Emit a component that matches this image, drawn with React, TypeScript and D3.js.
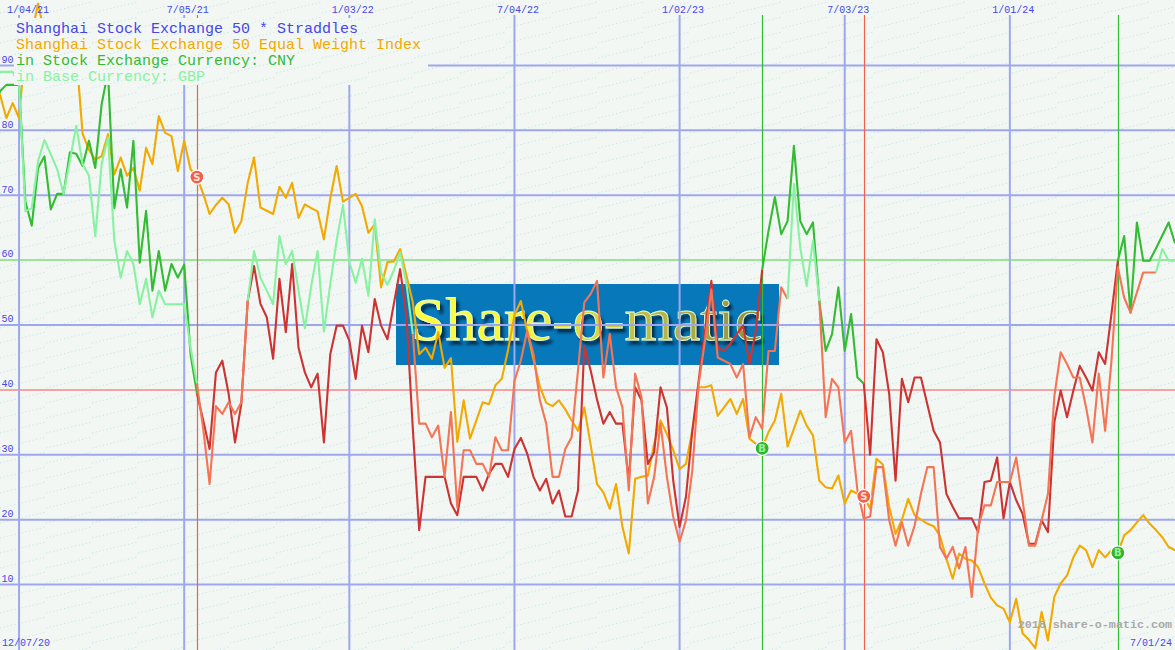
import React from 'react';
import * as d3 from 'd3';

const W = 1175;
const H = 650;

// weekly data, week 0 = Monday 7 Dec 2020
const START_UTC = Date.UTC(2020, 11, 7);
const WEEK_MS = 7 * 24 * 3600 * 1000;

const orangeIndex = [
  83, 85.5, 81.9, 84.2, 81.9, 93, 95, 99.5, 95, 92,
  94, 91, 93, 92, 79.5, 77, 75.5, 76, 79.4, 73.2,
  75.8, 73, 74.2, 70.7, 77.3, 74.8, 82.2, 79.6, 79.1, 73.7,
  78.4, 74, 72.8, 70.2, 67.1, 68.5, 69.6, 68.6, 64.2, 66,
  71.9, 75.8, 68.1, 67.6, 67.1, 71.3, 69.6, 71.9, 66.5, 68.6,
  68, 67.5, 63.2, 69.5, 74.5, 69, 69.6, 70.2, 68.3, 64.2,
  65.5, 55.8, 59.7, 59.8, 61.7, 57.6, 53.5, 45.5, 46.5, 44.8,
  48.9, 43.4, 44.9, 32, 38.4, 32.5, 35.3, 38.1, 37.8, 40.7,
  41.7, 46.2, 51.5, 53.7, 49.1, 44.7, 40.5, 38, 37.5, 38.4,
  37, 35.3, 33.7, 37.3, 31.5, 25.5, 24.2, 21.7, 25.5, 18.9,
  14.8, 26.3, 26.6, 26.8, 31.7, 35.3, 33.2, 30.7, 27.8, 28.6,
  33.7, 40.4, 40.4, 40.7, 36, 37.3, 38.6, 36.3, 38.6, 32.5,
  31.7, 31, 33.5, 35.3, 39.4, 31.3, 34, 36.8, 34.5, 33,
  26, 25, 24.8, 26.8, 22.5, 24.5, 24, 23.6, 21.7, 29.4,
  28.5, 22, 17.8, 20, 23.2, 20.7, 20, 19.4, 19, 17.5,
  14, 10.9, 14.8, 14, 13.7, 12.7, 10.2, 8, 6.8, 6.3,
  4.2, 7.8, 2.5, 1.5, 0.2, 5.8, 1.4, 8.1, 10.2, 11.4,
  14.2, 16, 15.3, 12.7, 15.3, 14.2, 15.3, 14.9, 17.6, 18.4,
  19.6, 20.7, 19.4, 18.4, 17.3, 15.8, 15.3,
];

const straddleCNY = [
  83, 86, 87, 87, 87, 69, 65.3, 74.2, 76, 67.8,
  70.2, 70.2, 76.6, 76.4, 74.5, 78.4, 74.2, 84, 89, 68,
  74, 68.1, 78.4, 59.6, 67.6, 55.3, 61.4, 55.3, 59.4, 57.3,
  59.3, 45.5, 39.5, 35.3, 30.9, 42.7, 44.5, 39.4, 31.9, 37.9,
  53.7, 59.1, 53.3, 51.2, 44.8, 57.1, 48.9, 59.4, 46.5, 42.7,
  40.4, 42.5, 31.9, 45.5, 49.9, 49.9, 47.6, 41.7, 49.9, 45.8,
  54, 49.9, 47.8, 53.2, 58.6, 51.2, 34, 18.4, 26.6, 26.6,
  26.6, 26.6, 22.5, 20.7, 26.6, 26.6, 26.6, 24.5, 27.1, 28.6,
  28.6, 26.6, 30.9, 32.6, 30.2, 26.6, 24.5, 26.3, 22.5, 24.5,
  20.5, 20.5, 24.5, 46.8, 43, 38.5, 34.8, 36.6, 34.8, 34.8,
  26, 40.4, 38.4, 28.6, 30.4, 40.4, 37.3, 26, 18.9, 23.5,
  33.7, 41.4, 49.1, 56.8, 46.5, 46, 47.1, 48.6, 49.9, 44,
  49.1, 58.5, 64.5, 69.7, 64, 66, 77.6, 66, 64, 65.8,
  53.7, 46, 48.6, 55.8, 46, 51.7, 41.9, 41, 30, 47.8,
  45.8, 39.4, 26, 41.7, 38.1, 41.9, 41.9, 37.8, 33.7, 31.9,
  24, 22, 20.2, 20.2, 20.2, 18.1, 25.8, 26, 29.6, 20.2,
  25.8, 23, 20.9, 16.3, 16.3, 19.9, 18.1, 35, 39.9, 35.8,
  39.9, 43.7, 41.9, 39.9, 45.8, 44, 51.7, 59.9, 63.7, 51.9,
  65.8, 59.9, 59.9, 61.8, 63.8, 65.8, 62.6,
];

const straddleGBP = [
  87, 89, 89, 89, 87, 67.5, 68, 75.3, 78.5, 76.3,
  74, 70.2, 75.3, 80.7, 74.8, 73, 63.7, 74.8, 78.9, 63,
  57.3, 61.4, 59.4, 53.2, 57.1, 51.2, 55.3, 53.2, 53.2, 53.2,
  53.2, 46.5, 41, 34, 25.5, 37.5, 36.3, 38.1, 36.3, 38.1,
  53.7, 61.4, 57.3, 55.3, 53.2, 63.7, 59.4, 61.4, 55.3, 49.5,
  56, 61.4, 49, 56.3, 63, 68.5, 59.7, 56.5, 60.2, 54.5,
  66.3, 58, 56.2, 58.4, 61.2, 56.3, 48.6, 34.8, 34.8, 32.7,
  34.5, 26.6, 36.6, 21.9, 30.7, 30.7, 28.6, 28.6, 26.6, 32.7,
  30.7, 30.7, 41.4, 44.5, 49.1, 45.5, 38.4, 34.8, 26.6, 26.6,
  30.9, 32.7, 43, 53.5, 54.8, 56.8, 41.9, 48.6, 40.4, 37.3,
  24.5, 42.5, 38.9, 22.5, 26.6, 34.8, 26.6, 20.4, 16.6, 19.9,
  27.6, 40.9, 47.6, 55.5, 45, 44.5, 44, 41.9, 44, 32.7,
  35.8, 34, 46, 46, 55.8, 54, 71.7, 61.9, 56, 63,
  53.7, 35.8, 41.7, 40.4, 31.9, 33.7, 24.5, 20.2, 20.5, 28.1,
  28.1, 19.9, 16, 19.6, 16, 19.1, 24, 28.1, 28.1, 15.8,
  14, 15.8, 12.5, 15.8, 8.1, 18.9, 22.2, 22.2, 25.8, 25.8,
  25.8, 29.6, 23, 16, 16, 19.9, 24, 39, 45.8, 44,
  41.9, 41.9, 37.3, 31.9, 42.5, 33.7, 44.5, 58.9, 54.2, 51.9,
  55, 58.1, 58.1, 58.1, 61.7, 59.9, 59.9,
];

// signals (week index, B = buy / S = sell)
const cnySignalWeeks = [32, 121, 137, 177];
const cnySignalTypes = ['S', 'B', 'S', 'B'];
const gbpChangeWeeks = [32, 40, 66, 125, 130, 183];
const gbpChangeTypes = ['S', 'B', 'S', 'B', 'S', 'B'];

const tickDates = ['2021-01-04', '2021-07-05', '2022-01-03', '2022-07-04', '2023-01-02', '2023-07-03', '2024-01-01'];
const tickLabels = ['1/04/21', '7/05/21', '1/03/22', '7/04/22', '1/02/23', '7/03/23', '1/01/24'];
const yTicks = [10, 20, 30, 40, 50, 60, 70, 80, 90];
const startLabel = '12/07/20';
const endLabel = '7/01/24';

const legendTexts = [
  'Shanghai Stock Exchange 50 * Straddles',
  'Shanghai Stock Exchange 50 Equal Weight Index',
  'in Stock Exchange Currency: CNY',
  'in Base Currency: GBP',
];

const C = {
  bg: '#f3f7f3',
  grid: '#9ea7ee',
  grid60: '#9fe39b',
  grid40: '#f3a3a3',
  label: '#4646ec',
  orange: '#f2a900',
  cnyBuy: '#33bb33',
  cnySell: '#cc3333',
  gbpBuy: '#88f2a2',
  gbpSell: '#f47456',
  sigRed: '#f0604a',
  sigGreen: '#33bb33',
};
const legendColors = [C.label, C.orange, C.cnyBuy, C.gbpBuy];

const dateOf = (w: number) => new Date(START_UTC + w * WEEK_MS);

const x = d3.scaleUtc()
  .domain([new Date(Date.UTC(2020, 11, 14)), new Date(Date.UTC(2024, 6, 1))])
  .range([0, W]);
const y = d3.scaleLinear().domain([0, 100]).range([649.5, 0.5]);

const line = d3.line<[number, number]>()
  .x((d) => x(dateOf(d[0])))
  .y((d) => y(d[1]));

function stateAt(w: number, weeks: number[], types: string[]) {
  let s = 'B';
  weeks.forEach((cw, i) => {
    if (cw <= w) s = types[i];
  });
  return s;
}

function runs(values: number[], weeks: number[], types: string[]) {
  const out: { s: string; pts: [number, number][] }[] = [];
  let cur: { s: string; pts: [number, number][] } | null = null;
  for (let i = 0; i < values.length - 1; i++) {
    const s = stateAt(i, weeks, types);
    if (!cur || cur.s !== s) {
      cur = { s, pts: [[i, values[i]]] };
      out.push(cur);
    }
    cur.pts.push([i + 1, values[i + 1]]);
  }
  return out;
}

export default function App() {
  const orangePts: [number, number][] = orangeIndex.map((v, i) => [i, v]);
  const cnyRuns = runs(straddleCNY, cnySignalWeeks, cnySignalTypes);
  const gbpRuns = runs(straddleGBP, gbpChangeWeeks, gbpChangeTypes);
  const mono = '"Liberation Mono", "DejaVu Sans Mono", monospace';

  return (
    <svg
      width={W}
      height={H}
      viewBox={`0 0 ${W} ${H}`}
      style={{ position: 'absolute', left: 0, top: 0, display: 'block' }}
    >
      <defs>
        <pattern id="tex" width="46" height="15" patternUnits="userSpaceOnUse">
          <line x1="0" y1="13" x2="46" y2="2" stroke="#c3e5e8" strokeWidth="1" strokeDasharray="1.3 2.4" />
        </pattern>
        <linearGradient id="logoGrad" x1="0" y1="0" x2="1" y2="0">
          <stop offset="0" stopColor="#ffff3a" />
          <stop offset="0.35" stopColor="#f4f23a" />
          <stop offset="0.6" stopColor="#c9c64a" />
          <stop offset="1" stopColor="#8f8d3c" />
        </linearGradient>
        <filter id="logoShadow" x="-10%" y="-20%" width="130%" height="150%">
          <feDropShadow dx="3" dy="4" stdDeviation="1.6" floodColor="#00213a" floodOpacity="0.85" />
        </filter>
        <clipPath id="plotClip">
          <rect x="0" y="0" width={W} height={H} />
        </clipPath>
      </defs>

      {/* background */}
      <rect x="0" y="0" width={W} height={H} fill={C.bg} />
      <rect x="0" y="0" width={W} height={H} fill="url(#tex)" />

      {/* logo */}
      <rect x="396" y="284" width="383" height="81" fill="#0779bb" />
      <text
        x="411"
        y="340"
        fontFamily='"Liberation Serif", "DejaVu Serif", serif'
        fontSize="62"
        fill="url(#logoGrad)"
        stroke="#e8ffd8"
        strokeWidth="0.8"
        filter="url(#logoShadow)"
      >
        Share-o-matic
      </text>

      {/* horizontal grid */}
      {yTicks.map((v) => (
        <line
          key={'h' + v}
          x1={0}
          x2={W}
          y1={y(v)}
          y2={y(v)}
          stroke={v === 60 ? C.grid60 : v === 40 ? C.grid40 : C.grid}
          strokeWidth={2}
        />
      ))}

      {/* vertical grid */}
      {tickDates.map((d) => {
        const xx = x(new Date(d + 'T00:00:00Z'));
        return <line key={'v' + d} x1={xx} x2={xx} y1={15} y2={H} stroke={C.grid} strokeWidth={2} />;
      })}

      {/* signal lines */}
      {cnySignalWeeks.map((w, i) => {
        const xx = Math.round(x(dateOf(w))) + 0.5;
        return (
          <line
            key={'s' + w}
            x1={xx}
            x2={xx}
            y1={15}
            y2={H}
            stroke={cnySignalTypes[i] === 'S' ? C.sigRed : C.sigGreen}
            strokeWidth={1.2}
          />
        );
      })}

      {/* series */}
      <g clipPath="url(#plotClip)" fill="none" strokeWidth={2.1} strokeLinejoin="round">
        <path d={line(orangePts) || ''} stroke={C.orange} />
        {cnyRuns.map((r, i) => (
          <path key={'c' + i} d={line(r.pts) || ''} stroke={r.s === 'B' ? C.cnyBuy : C.cnySell} />
        ))}
        {gbpRuns.map((r, i) => (
          <path key={'g' + i} d={line(r.pts) || ''} stroke={r.s === 'B' ? C.gbpBuy : C.gbpSell} />
        ))}
      </g>

      {/* signal markers on the index */}
      {cnySignalWeeks.map((w, i) => {
        const cx = x(dateOf(w));
        const cy = y(orangeIndex[w]);
        const sell = cnySignalTypes[i] === 'S';
        return (
          <g key={'m' + w}>
            <circle cx={cx} cy={cy} r={7} fill={sell ? '#f25f4c' : '#2fb52f'} stroke="#ffffff" strokeWidth={1.2} />
            <text
              x={cx}
              y={cy + 3.6}
              textAnchor="middle"
              fontFamily='"DejaVu Sans", sans-serif'
              fontWeight="bold"
              fontSize="10"
              fill={sell ? '#ffe0d8' : '#9ef09e'}
            >
              {cnySignalTypes[i]}
            </text>
          </g>
        );
      })}

      {/* legend box */}
      <rect x="14" y="18" width="414" height="67" fill={C.bg} />
      <rect x="14" y="18" width="414" height="67" fill="url(#tex)" />
      {legendTexts.map((t, i) => (
        <text
          key={'lg' + i}
          x={16}
          y={32.5 + i * 16}
          fontFamily={mono}
          fontSize="15"
          fill={legendColors[i]}
          style={{ whiteSpace: 'pre' }}
        >
          {t}
        </text>
      ))}

      {/* y labels */}
      {yTicks.map((v) => (
        <text key={'yl' + v} x={1.5} y={y(v) - 2.7} fontFamily={mono} fontSize="10" fill={C.label}>
          {v}
        </text>
      ))}

      {/* top date labels */}
      {tickDates.map((d, i) => {
        const xx = x(new Date(d + 'T00:00:00Z'));
        const cx = Math.max(xx + 3.5, 7 + 21);
        return (
          <text key={'tl' + d} x={cx} y={13} textAnchor="middle" fontFamily={mono} fontSize="10" fill={C.label}>
            {tickLabels[i]}
          </text>
        );
      })}

      {/* watermark */}
      <text
        x={1172}
        y={628}
        textAnchor="end"
        fontFamily={mono}
        fontWeight="bold"
        fontSize="11.7"
        fill="#a9a9a9"
      >
        2018 share-o-matic.com
      </text>

      {/* start / end dates */}
      <text x={2} y={646} fontFamily={mono} fontSize="10" fill={C.label}>
        {startLabel}
      </text>
      <text x={1172} y={646} textAnchor="end" fontFamily={mono} fontSize="10" fill={C.label}>
        {endLabel}
      </text>
    </svg>
  );
}
